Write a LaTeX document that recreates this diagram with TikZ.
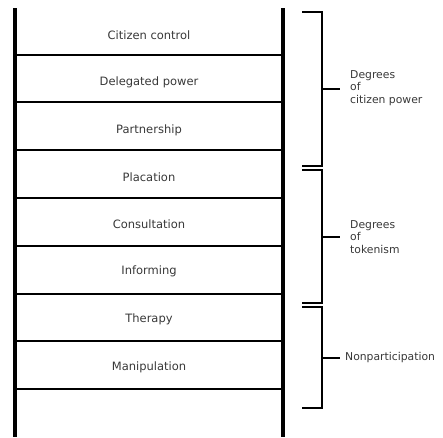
\documentclass[tikz,border=0pt]{standalone}
\usepackage{fontspec}
\setmainfont{DejaVu Sans}
\begin{document}
\begin{tikzpicture}[x=1pt,y=-1pt,
  rail/.style={line width=3.6pt},
  rung/.style={line width=2.6pt},
  brk/.style={line width=2.6pt},
  lab/.style={font=\fontsize{11.5}{13}\selectfont, text=black!78, inner sep=0pt},
  grp/.style={font=\fontsize{10.8}{12.5}\selectfont, align=left, anchor=west, text=black!78, inner sep=0pt}]
\useasboundingbox (0,0) rectangle (443,437);
% rails
\coordinate (lt) at (15,8);  \coordinate (lb) at (15,437);
\coordinate (rt) at (283,8); \coordinate (rb) at (283,437);
\draw[rail] (lt) -- (lb);
\draw[rail] (rt) -- (rb);
% rungs
\foreach \y in {55,102,150,198,246,294,341,389}
  \draw[rung] (15,\y) -- (283,\y);
% rung labels
\node[lab] (cc) at (149,35)  {Citizen control};
\node[lab] (dp) at (149,82)  {Delegated power};
\node[lab] (pa) at (149,130) {Partnership};
\node[lab] (pl) at (149,177) {Placation};
\node[lab] (co) at (149,224) {Consultation};
\node[lab] (in) at (149,271) {Informing};
\node[lab] (th) at (149,319) {Therapy};
\node[lab] (ma) at (149,367) {Manipulation};
% brackets
\draw[brk] (302,12) -- (322,12) -- (322,166) -- (302,166);
\draw[brk] (322,89) -- (340,89);
\draw[brk] (302,170) -- (322,170) -- (322,303) -- (302,303);
\draw[brk] (322,237) -- (340,237);
\draw[brk] (302,307) -- (322,307) -- (322,408) -- (302,408);
\draw[brk] (322,358) -- (340,358);
% group labels
\node[grp] (g1) at (350,88)  {Degrees\\of\\citizen power};
\node[grp] (g2) at (350,237) {Degrees\\of\\tokenism};
\node[grp] (g3) at (345,358) {Nonparticipation};
\end{tikzpicture}
\end{document}
